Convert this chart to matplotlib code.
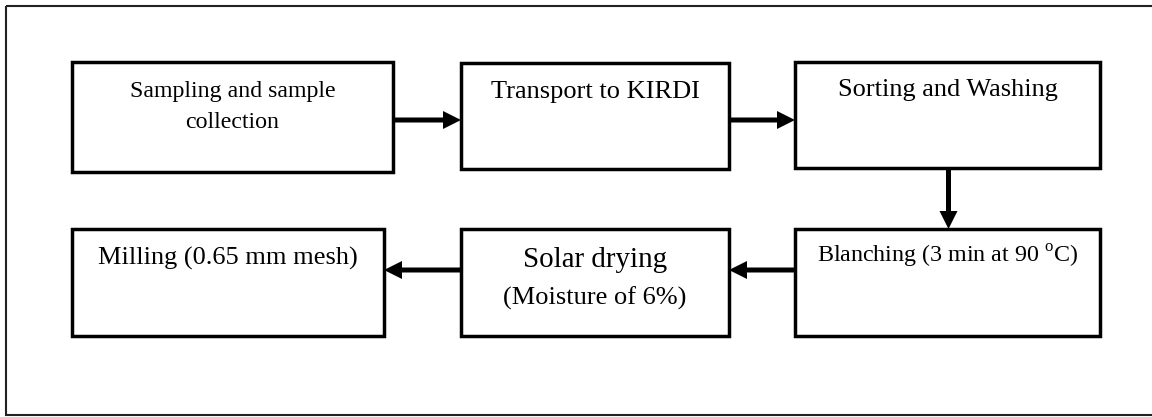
# Process flow chart: sample preparation steps
import matplotlib
matplotlib.use("Agg")

import matplotlib.pyplot as plt
from matplotlib.patches import Rectangle

plt.rcParams["font.family"] = ["Liberation Serif", "DejaVu Serif"]
plt.rcParams["mathtext.fontset"] = "custom"
plt.rcParams["mathtext.rm"] = "Liberation Serif"

# steps of the process, in flow order
steps = [
    ["Sampling and sample", "collection"],
    ["Transport to KIRDI"],
    ["Sorting and Washing"],
    [r"Blanching (3 min at 90 $^{\mathrm{o}}$C)"],
    ["Solar drying", "(Moisture of 6%)"],
    ["Milling (0.65 mm mesh)"],
]
# which step leads to which
links = [(0, 1), (1, 2), (2, 3), (3, 4), (4, 5)]

# layout in pixels (x, y top, width, height)
boxes = [
    (72, 62, 321, 110),
    (461, 63, 268, 106),
    (795, 62, 305, 106),
    (795, 229, 305, 107),
    (461, 229, 268, 107),
    (72, 229, 312, 107),
]
# baseline of each text line and font size (pt)
baselines = [[97, 128], [98], [96], [263], [267, 305], [265]]
sizes = [[17.2, 17.2], [19], [19], [17.3], [20.9, 19], [19]]

fig = plt.figure(figsize=(11.52, 4.17), dpi=100)
ax = fig.add_axes([0, 0, 1, 1])
ax.set_xlim(0, 1152)
ax.set_ylim(417, 0)
ax.axis("off")

# outer frame (right edge runs off the picture)
ax.add_patch(Rectangle((6, 6), 1170, 409, fill=False, lw=1.5, ec="#222222"))

for (x, y, w, h), lines, bls, fs in zip(boxes, steps, baselines, sizes):
    ax.add_patch(Rectangle((x, y), w, h, fill=False, lw=2.5, ec="black"))
    for txt, b, s in zip(lines, bls, fs):
        ax.text(x + w / 2, b, txt, ha="center", va="baseline", fontsize=s)

arrow_style = dict(width=5, head_width=18, head_length=18,
                   length_includes_head=True, color="black", lw=0)

for a, b in links:
    xa, ya, wa, ha = boxes[a]
    xb, yb, wb, hb = boxes[b]
    if abs(yb - ya) < 20:
        # horizontal link, upper row at y=120, lower row at y=270
        yc = 120 if ya < 200 else 270
        if xb > xa:
            x0, x1 = xa + wa, xb
        else:
            x0, x1 = xa, xb + wb
        ax.arrow(x0, yc, x1 - x0, 0, **arrow_style)
    else:
        # vertical link down the middle of the box
        xc = xa + wa / 2 + 1
        y0, y1 = ya + ha, yb
        ax.arrow(xc, y0, 0, y1 - y0, **arrow_style)

fig.savefig("out.png", dpi=100)
plt.close(fig)
